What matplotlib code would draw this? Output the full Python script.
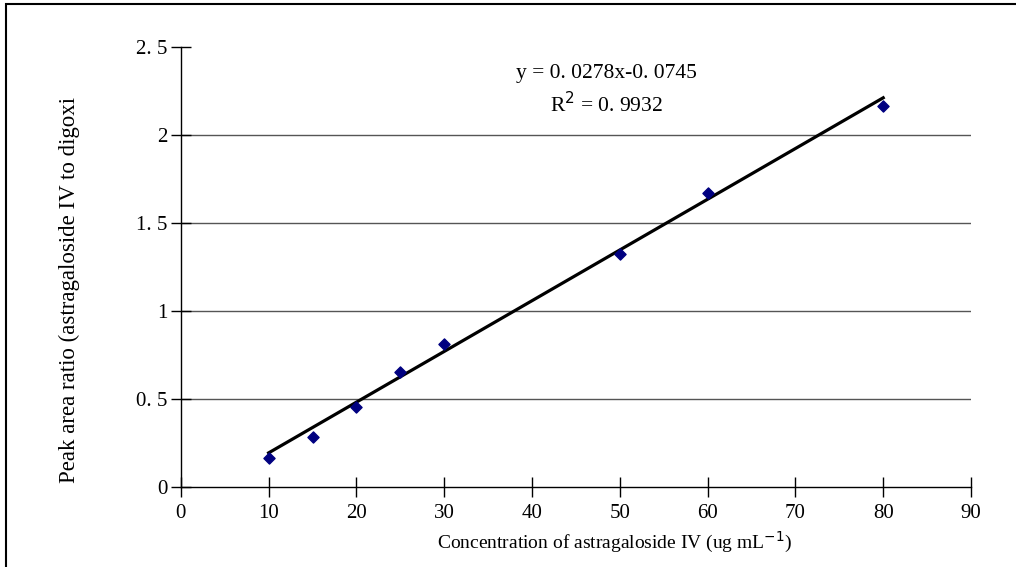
import numpy as np
import matplotlib
matplotlib.use("Agg")
import matplotlib.pyplot as plt
from matplotlib.patches import Rectangle

# concentration (ug/mL) vs peak area ratio
conc = [10, 15, 20, 25, 30, 50, 60, 80]
ratio = [0.163, 0.282, 0.453, 0.655, 0.81, 1.322, 1.669, 2.165]

x_ticks = [0, 10, 20, 30, 40, 50, 60, 70, 80, 90]
y_ticks = [0, 0.5, 1, 1.5, 2, 2.5]
y_tick_labels = ["0", "0. 5", "1", "1. 5", "2", "2. 5"]

# trend line as drawn in the picture
trend_slope, trend_intercept = 0.0288, -0.094
eq_text = "y = 0. 0278x-0. 0745"
r2_text = "R$^2$ = 0. 9932"

plt.rcParams['font.family'] = ['Liberation Serif', 'DejaVu Serif']

fig = plt.figure(figsize=(10.16, 5.67), dpi=100)
ax = fig.add_axes([0.178, 0.141, 0.9557 - 0.178, 0.9176 - 0.141])

# outer frame (only top and left visible)
fig.patches.append(Rectangle((6 / 1016, -0.1), 1.2, 1.1 - 3.5 / 567, transform=fig.transFigure,
                             fill=False, edgecolor='black', linewidth=1.5))

for yv in y_ticks[1:-1]:
    ax.axhline(yv, color='#555555', linewidth=1.0, zorder=1)

xs = np.array([min(conc), max(conc)])
ax.plot(xs, trend_slope * xs + trend_intercept, color='black', linewidth=2.3, zorder=2)
ax.scatter(conc, ratio, marker='D', s=32, color='#000080', zorder=3)

ax.set_xlim(0, 90)
ax.set_ylim(0, 2.5)
ax.set_xticks(x_ticks)
ax.set_yticks(y_ticks)
ax.set_yticklabels(y_tick_labels)
ax.tick_params(axis='both', direction='inout', length=15, width=1, labelsize=15)
ax.tick_params(axis='y', pad=2)
ax.tick_params(axis='x', pad=5)

for s in ['top', 'right']:
    ax.spines[s].set_visible(False)
for s in ['left', 'bottom']:
    ax.spines[s].set_linewidth(1)

ax.text(48.5, 2.35, eq_text, ha='center', va='center', fontsize=15.5)
ax.text(48.5, 2.17, r2_text, ha='center', va='center', fontsize=15.5)

ax.set_xlabel("Concentration of astragaloside IV (ug mL$^{-1}$)", fontsize=14)
ax.xaxis.set_label_coords(0.549, -0.098)
ax.set_ylabel("Peak area ratio (astragaloside IV to digoxi", fontsize=16.5)
ax.yaxis.set_label_coords(-0.127, 0.447)

fig.savefig("out.png", dpi=100)
